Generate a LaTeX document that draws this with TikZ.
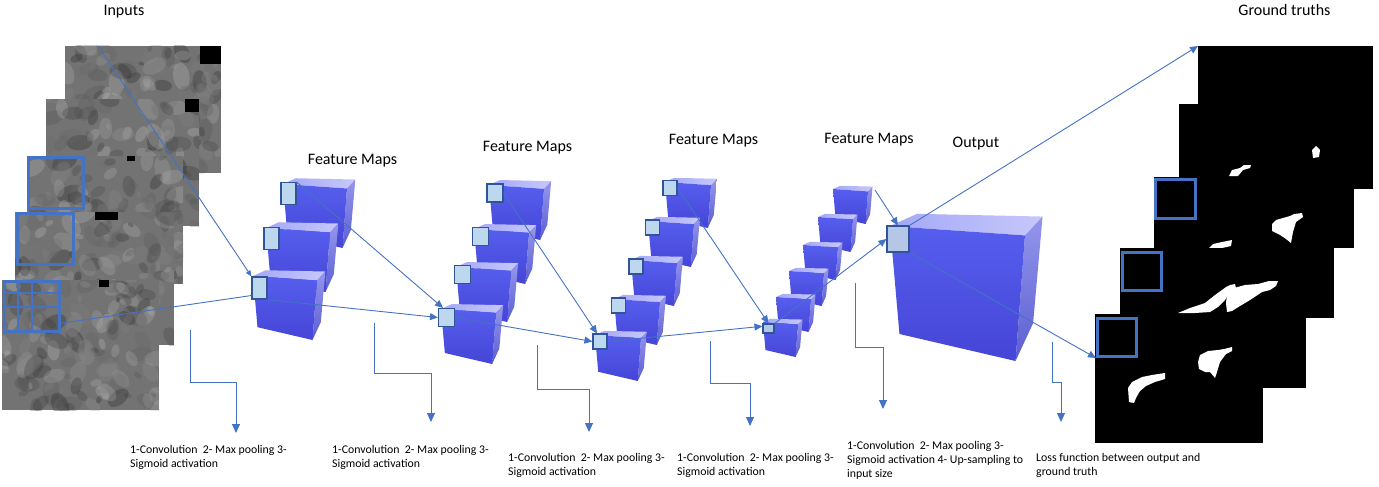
\documentclass[tikz,border=0pt]{standalone}
\usepackage{fontspec}
\setmainfont{Carlito}
\usetikzlibrary{calc}
\usetikzlibrary{arrows.meta}

\definecolor{lineblue}{HTML}{4472C4}
\definecolor{sqfill}{HTML}{BDD7EE}
\definecolor{sqfilldk}{HTML}{B4C7E7}
\definecolor{sqline}{HTML}{2F5597}
\definecolor{cubefrontt}{HTML}{565EEE}
\definecolor{cubefrontb}{HTML}{4545D6}
\definecolor{cubetopl}{HTML}{A4A8F6}
\definecolor{cubetopr}{HTML}{C6C8FA}
\definecolor{cubesidet}{HTML}{9496EC}
\definecolor{cubesideb}{HTML}{5C5ED2}

\tikzset{
  title/.style={font=\fontsize{16}{19}\selectfont, anchor=base, inner sep=0pt},
  steplabel/.style={font=\fontsize{11.8}{14}\selectfont, align=left, anchor=north west, inner sep=0pt},
  conn/.style={draw=lineblue, line width=0.9pt, -{Triangle[length=8pt,width=7pt]}},
  elbow/.style={draw=lineblue, line width=1pt, -{Triangle[length=9pt,width=8pt]}},
  sq/.style={draw=sqline, fill=sqfill, line width=1.1pt, inner sep=0pt},
  hilite/.style={draw=lineblue, line width=3pt, inner sep=0pt},
  gtimg/.style={fill=black, inner sep=0pt, anchor=north west},
}

\newcommand{\fmcube}[3]{%
  \begin{scope}[shift={(#1,#2)}, scale=#3]
    \shade[left color=cubetopl, right color=cubetopr] (0,0) -- (0.2,-0.09) -- (1.13,-0.07) -- (1,0.07) -- cycle;
    \shade[top color=cubesidet, bottom color=cubesideb] (1,0.07) -- (1.13,-0.07) -- (1.06,0.72) -- (0.93,1) -- cycle;
    \shade[top color=cubefrontt, bottom color=cubefrontb] (0,0) -- (1,0.07) -- (0.93,1) -- (0.07,0.8) -- cycle;
  \end{scope}}

\newcommand{\mriimg}[4]{%
  \begin{scope}
    \clip (#1,#2) rectangle (#3,#4);
    \fill[black!55] (#1,#2) rectangle (#3,#4);
    \foreach \k in {1,...,130}{
      \pgfmathsetmacro{\px}{#1+rnd*(#3-#1)}
      \pgfmathsetmacro{\py}{#2+rnd*(#4-#2)}
      \pgfmathsetmacro{\pr}{3+rnd*11}
      \pgfmathsetmacro{\pa}{rnd*180}
      \pgfmathtruncatemacro{\pg}{25+rnd*62}
      \fill[black!\pg, opacity=0.3, rotate around={\pa:(\px,\py)}] (\px,\py) ellipse ({\pr} and {0.6*\pr});
    }
  \end{scope}}

\begin{document}
\begin{tikzpicture}[x=1pt, y=-1pt]
  \useasboundingbox (0,0) rectangle (1379,487);
  \pgfmathsetseed{42}

  \mriimg{65}{46}{221}{173}
  \fill[black] (200,46) rectangle (221,64);
  \mriimg{46}{99}{199}{226}
  \fill[black] (185,99) rectangle (199,112);
  \mriimg{27}{156}{183}{284}
  \fill[black] (127,156) rectangle (135,161);
  \mriimg{15}{212}{174}{345}
  \fill[black] (95,212) rectangle (118,220);
  \mriimg{2}{280}{159}{410}
  \fill[black] (99,280) rectangle (109,287);

  \node[hilite, minimum width=55pt, minimum height=51pt] (box3) at (56,183) {};
  \node[hilite, minimum width=56pt, minimum height=51pt] (box4) at (45.5,239) {};
  \node[hilite, minimum width=55pt, minimum height=50pt] (box5) at (32,306.5) {};
  \foreach \gx in {18,32}
    \draw[lineblue, line width=1.2pt] (\gx,281.5) -- (\gx,331.5);
  \foreach \gy in {293,307}
    \draw[lineblue, line width=1.2pt] (4.5,\gy) -- (59.5,\gy);

  \node[title] (inputs) at (124,16) {Inputs};
  \node[title] (truths) at (1284.5,16) {Ground truths};
  \node[title] (fm1) at (352.5,164) {Feature Maps};
  \node[title] (fm2) at (527.5,151) {Feature Maps};
  \node[title] (fm3) at (713.5,144.5) {Feature Maps};
  \node[title] (fm4) at (869,143.5) {Feature Maps};
  \node[title] (outlab) at (976,147) {Output};

  \node[gtimg, minimum width=175pt, minimum height=143pt] (gt1) at (1198,46) {};
  \node[gtimg, minimum width=175pt, minimum height=144pt] (gt2) at (1179,104) {};
  \fill[white] (1312,150) -- (1316,146) -- (1320,150) -- (1319,157) -- (1313,158) -- cycle;
  \fill[white] (1229,176) -- (1232,170) -- (1240,168) -- (1244,165) -- (1251,165) -- (1250,168) -- (1243,170) -- (1238,176) -- cycle;
  \node[gtimg, minimum width=180pt, minimum height=141pt] (gt3) at (1154,177) {};
  \fill[white] (1272,224) -- (1276,220) -- (1290,216) -- (1294,214) -- (1302,213) -- (1303,217) -- (1296,222) -- (1293,232) -- (1291,243) -- (1286,239) -- (1280,235) -- (1272,231) -- cycle;
  \fill[white] (1207,250) -- (1213,244) -- (1222,242) -- (1232,240) -- (1231,246) -- (1222,248) -- (1215,250) -- cycle;
  \node[gtimg, minimum width=186pt, minimum height=140pt] (gt4) at (1120,248) {};
  \fill[white] (1178,313) -- (1190,308) -- (1205,303) -- (1215,295) -- (1222,290) -- (1226,287) -- (1230,285) -- (1235,284) -- (1236,288) -- (1230,292) -- (1225,300) -- (1218,307) -- (1210,312) -- (1195,313) -- cycle;
  \fill[white] (1227,294) -- (1234,288) -- (1245,285) -- (1258,284) -- (1269,281) -- (1278,281) -- (1276,286) -- (1270,290) -- (1262,292) -- (1250,300) -- (1240,306) -- (1232,311) -- (1227,312) -- (1226,303) -- cycle;
  \node[gtimg, minimum width=168pt, minimum height=129pt] (gt5) at (1095,314) {};
  \fill[white] (1198,362) -- (1200,355) -- (1208,351) -- (1218,350) -- (1224,349) -- (1232,347) -- (1232,351) -- (1226,354) -- (1220,362) -- (1217,372) -- (1215,378) -- (1210,372) -- (1205,372) -- (1199,369) -- cycle;
  \fill[white] (1129,402) -- (1128,388) -- (1132,382) -- (1142,377) -- (1152,375) -- (1165,373) -- (1165,379) -- (1155,382) -- (1146,386) -- (1140,391) -- (1136,398) -- (1134,403) -- cycle;
  \node[hilite, minimum width=40pt, minimum height=39pt] (gbox3) at (1175.5,199) {};
  \node[hilite, minimum width=39pt, minimum height=38pt] (gbox4) at (1142,271.5) {};
  \node[hilite, minimum width=39pt, minimum height=38pt] (gbox5) at (1117,337.5) {};

  \fmcube{283}{184}{64}
  \fmcube{266}{228}{64}
  \fmcube{253}{276}{64}
  \fmcube{489}{185}{55}
  \fmcube{474}{229}{55}
  \fmcube{456}{267}{55}
  \fmcube{441}{309}{55}
  \fmcube{665}{182}{46}
  \fmcube{648}{221}{46}
  \fmcube{631}{260}{46}
  \fmcube{614}{299}{46}
  \fmcube{595}{335}{46}
  \fmcube{833}{189}{35}
  \fmcube{818}{217}{35}
  \fmcube{803}{245}{35}
  \fmcube{789}{271}{35}
  \fmcube{776}{297}{35}
  \fmcube{763}{322}{35}
  \fmcube{890}{226}{135}

  \node[sq, minimum width=15pt, minimum height=22pt] (s1a) at (288.5,193.5) {};
  \node[sq, minimum width=15pt, minimum height=22pt] (s1b) at (271.5,238.5) {};
  \node[sq, minimum width=15pt, minimum height=22pt] (s1c) at (259.5,288) {};
  \node[sq, minimum width=16pt, minimum height=18pt] (s2a) at (495,193) {};
  \node[sq, minimum width=16pt, minimum height=18pt] (s2b) at (480.5,236.5) {};
  \node[sq, minimum width=16pt, minimum height=18pt] (s2c) at (462.5,274.5) {};
  \node[sq, minimum width=16pt, minimum height=18pt] (s2d) at (446.5,317.5) {};
  \node[sq, minimum width=14pt, minimum height=15pt] (s3a) at (670,188) {};
  \node[sq, minimum width=14pt, minimum height=15pt] (s3b) at (652.5,227.5) {};
  \node[sq, minimum width=14pt, minimum height=15pt] (s3c) at (636,266.5) {};
  \node[sq, minimum width=14pt, minimum height=15pt] (s3d) at (618.5,305.5) {};
  \node[sq, minimum width=14pt, minimum height=15pt] (s3e) at (600,341.5) {};
  \node[sq, fill=sqfilldk, minimum width=11pt, minimum height=9pt] (s4f) at (768.5,328.5) {};
  \node[sq, fill=sqfilldk, minimum width=22pt, minimum height=26pt] (so) at (898,239) {};

  \coordinate (inp) at (98,46);
  \coordinate (c4) at (875,190);
  \draw[conn, -{Triangle[length=6pt,width=5pt]}] (inp) -- (s1c.north west);
  \draw[lineblue, line width=0.9pt] (box5.-30) -- (s1c.223);
  \draw[conn] (s1a.north east) -- (s2d.110);
  \draw[conn] (s1c.south east) -- (s2d.west);
  \draw[conn] (s2a.east) -- (s3e.110);
  \draw[conn] (s2d.east) -- (s3e.west);
  \draw[conn] (s3a.east) -- (s4f.north);
  \draw[conn] (s3e.east) -- (s4f.160);
  \draw[conn] (c4) -- (so.north);
  \draw[conn] (s4f.north east) -- (so.west);
  \draw[conn] (so.north east) -- (gt1.north west);
  \draw[conn] (so.south east) -- (gbox5.south west);

  \node[steplabel] (lab1) at (130,445) {1-Convolution~ 2- Max pooling 3-\\Sigmoid activation};
  \node[steplabel] (lab2) at (332,445) {1-Convolution~ 2- Max pooling 3-\\Sigmoid activation};
  \node[steplabel] (lab3) at (508,453) {1-Convolution~ 2- Max pooling 3-\\Sigmoid activation};
  \node[steplabel] (lab4) at (677,453) {1-Convolution~ 2- Max pooling 3-\\Sigmoid activation};
  \node[steplabel] (lab5) at (847,441) {1-Convolution~ 2- Max pooling 3-\\Sigmoid activation 4- Up-sampling to\\input size};
  \node[steplabel] (lab6) at (1036,453) {Loss function between output and\\ground truth};

  \coordinate (e1) at (190,330);  \coordinate (t1) at (236,433);
  \coordinate (e2) at (374,323);  \coordinate (t2) at (431,422);
  \coordinate (e3) at (537,345);  \coordinate (t3) at (589,432);
  \coordinate (e4) at (710,341);  \coordinate (t4) at (750,426);
  \coordinate (e5) at (855,283);  \coordinate (t5) at (883,409);
  \coordinate (e6) at (1052,342); \coordinate (t6) at (1061,422);
  \draw[elbow] (e1) -- ++(0,52) -| (t1);
  \draw[elbow] (e2) -- ++(0,50) -| (t2);
  \draw[elbow] (e3) -- ++(0,44) -| (t3);
  \draw[elbow] (e4) -- ++(0,42) -| (t4);
  \draw[elbow] (e5) -- ++(0,64) -| (t5);
  \draw[elbow] (e6) -- ++(0,40) -| (t6);
\end{tikzpicture}
\end{document}
